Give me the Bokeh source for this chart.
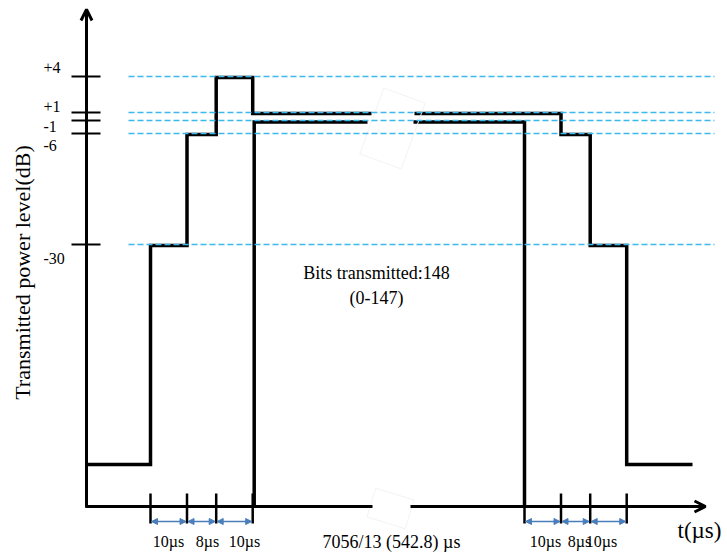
import numpy as np
from bokeh.plotting import figure
from bokeh.models import Range1d, Arrow, OpenHead, NormalHead
from bokeh.core.properties import value
from bokeh.embed import file_html
from bokeh.resources import INLINE

# ---------------- data ----------------
level_db = [4, 1, -1, -6, -30]
level_labels = ["+4", "+1", "-1", "-6", "-30"]
ramp_up_us = [10, 8, 10]
ramp_up_db = [-30, -6, 4]
burst_us = 7056 / 13            # 542.8 us
burst_upper_db = 1
burst_lower_db = -1
ramp_down_us = [10, 8, 10]
ramp_down_db = [1, -6, -30]
segment_labels = ["10µs", "8µs", "10µs"]
burst_label = "7056/13 (542.8) µs"
bits_lines = ["Bits transmitted:148", "(0-147)"]
y_title = "Transmitted power level(dB)"
x_title = "t(µs)"

# ---------------- schematic scales ----------------
W, H = 727, 552
FONT = value("Liberation Serif")
BLACK = "#000000"
CYAN = "#3cb9ec"
BLUE = "#4a7ebb"

AX_X, AX_Y = 86, 506
db_anchor = [-30, -6, -1, 1, 4]
y_anchor = [244, 133, 120, 112, 76]
OFF_Y = 464


def ydb(db):
    return float(np.interp(db, db_anchor, y_anchor))


PX_US = 3.65
X0 = 150
up_t = np.concatenate([[0], np.cumsum(ramp_up_us)])           # 0,10,18,28
t_burst_end = up_t[-1] + burst_us
down_t = t_burst_end + np.concatenate([[0], np.cumsum(ramp_down_us)])
X_BURST_END = 524


def tx(t):
    if t <= up_t[-1]:
        return X0 + PX_US * t
    if t >= t_burst_end:
        return X_BURST_END + PX_US * (t - t_burst_end)
    x1 = X0 + PX_US * up_t[-1]
    return x1 + (t - up_t[-1]) * (X_BURST_END - x1) / burst_us


BREAK_L, BREAK_R = 371, 414
TAIL_X = 692
OFF = 1.0  # stroke centring offset
LW = 3.5

p = figure(width=W, height=H, x_range=Range1d(0, W), y_range=Range1d(H, 0),
           min_border=0, outline_line_color=None, toolbar_location=None,
           output_backend="svg", x_axis_type=None, y_axis_type=None)
p.grid.visible = False
p.background_fill_color = "white"

# ---------------- waveform (upper path) ----------------
ux = [AX_X, tx(up_t[0])]
uy = [OFF_Y, OFF_Y]
for i, db in enumerate(ramp_up_db):
    ux += [tx(up_t[i]), tx(up_t[i + 1])]
    uy += [ydb(db) + OFF, ydb(db) + OFF]
ux += [tx(up_t[-1]), BREAK_L]
uy += [ydb(burst_upper_db) + OFF, ydb(burst_upper_db) + OFF]
p.line(ux, uy, line_color=BLACK, line_width=LW, line_join="miter")

dx = [BREAK_R, tx(down_t[1])]
dy = [ydb(ramp_down_db[0]) + OFF, ydb(ramp_down_db[0]) + OFF]
for i in range(1, len(ramp_down_db)):
    dx += [tx(down_t[i]), tx(down_t[i + 1])]
    dy += [ydb(ramp_down_db[i]) + OFF, ydb(ramp_down_db[i]) + OFF]
dx += [tx(down_t[-1]), TAIL_X]
dy += [OFF_Y, OFF_Y]
p.line(dx, dy, line_color=BLACK, line_width=LW, line_join="miter")

# ---------------- waveform (lower burst path) ----------------
xb0 = tx(up_t[-1]) + 1.5
xb1 = tx(t_burst_end)
yl = ydb(burst_lower_db) + OFF + 0.5
p.line([xb0, xb0, BREAK_L - 4], [AX_Y, yl, yl], line_color=BLACK, line_width=LW, line_join="miter")
p.line([BREAK_R - 1, xb1, xb1], [yl, yl, AX_Y], line_color=BLACK, line_width=LW, line_join="miter")

# faint break marks
p.rect([392, 390], [128, 508], width=[44, 40], height=[70, 30], angle=[-0.35, -0.3],
       fill_color=None, line_color="#f3f3f3", line_width=1)

# ---------------- dashed reference levels ----------------
p.multi_line([[128, 714]] * len(level_db), [[ydb(d), ydb(d)] for d in level_db],
             line_color=CYAN, line_width=1.4, line_dash="6 3")

# ---------------- y axis ----------------
p.add_layout(Arrow(end=OpenHead(size=11, line_width=3, line_color=BLACK),
                   x_start=AX_X, y_start=AX_Y + 1, x_end=AX_X, y_end=9,
                   line_width=3, line_color=BLACK))
p.multi_line([[71, 100]] * len(level_db), [[ydb(d), ydb(d)] for d in level_db],
             line_color=BLACK, line_width=2)
label_dy = [-9, -6, 6, 12, 14]
p.text([43] * len(level_db), [ydb(d) + o for d, o in zip(level_db, label_dy)], text=level_labels,
       text_font=FONT, text_font_size="16px", text_color=BLACK,
       text_align="left", text_baseline="middle")

# ---------------- x axis ----------------
p.line([AX_X - 1, 372], [AX_Y, AX_Y], line_color=BLACK, line_width=3)
p.add_layout(Arrow(end=OpenHead(size=11, line_width=3, line_color=BLACK),
                   x_start=410, y_start=AX_Y, x_end=705, y_end=AX_Y,
                   line_width=3, line_color=BLACK))

tick_x = [tx(t) for t in up_t] + [tx(t) for t in down_t]
p.segment(tick_x, [493] * len(tick_x), tick_x, [523] * len(tick_x), line_color=BLACK, line_width=2.5)

# double arrows for durations
for times in (up_t, down_t):
    for i in range(len(times) - 1):
        p.add_layout(Arrow(start=NormalHead(size=6, fill_color=BLUE, line_color=BLUE),
                           end=NormalHead(size=6, fill_color=BLUE, line_color=BLUE),
                           x_start=tx(times[i]) + 1, y_start=521, x_end=tx(times[i + 1]) - 1, y_end=521,
                           line_color=BLUE, line_width=1.5))

# duration labels
left_cx = [168, 207, 244]
right_cx = [545, 579, 601]
p.text(left_cx + right_cx, [541] * 6, text=segment_labels + segment_labels,
       text_font=FONT, text_font_size="16px", text_color=BLACK,
       text_align="center", text_baseline="middle")
p.text([391], [541], text=[burst_label], text_font=FONT, text_font_size="18px",
       text_color=BLACK, text_align="center", text_baseline="middle")
p.text([699], [530], text=[x_title], text_font=FONT, text_font_size="23px",
       text_color=BLACK, text_align="center", text_baseline="middle")

# burst annotation
p.text([376, 376], [272, 297], text=bits_lines, text_font=FONT, text_font_size="18px",
       text_color=BLACK, text_align="center", text_baseline="middle")

# y title
p.text([22], [272], text=[y_title], angle=np.pi / 2, text_font=FONT, text_font_size="22px",
       text_color=BLACK, text_align="center", text_baseline="middle")

open("out.html", "w").write(file_html(p, INLINE))
